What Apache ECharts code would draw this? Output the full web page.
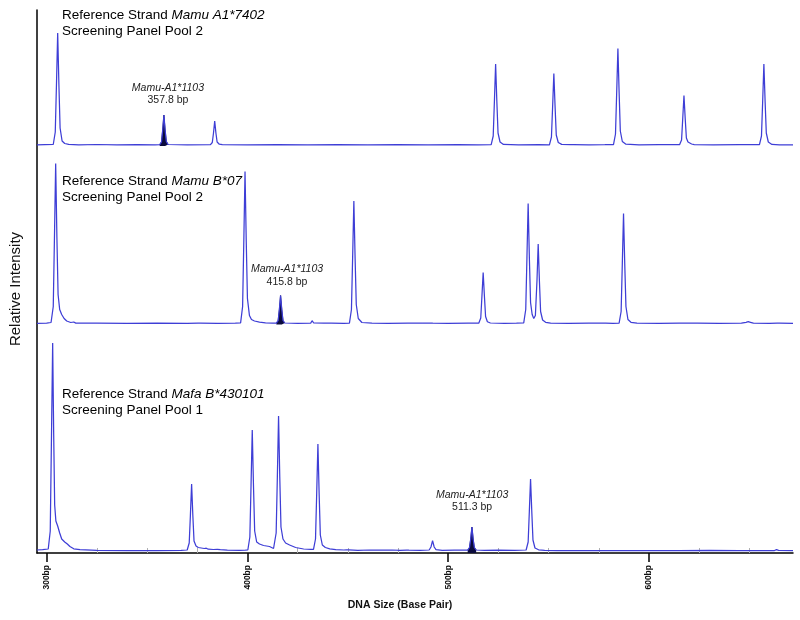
<!DOCTYPE html>
<html>
<head>
<meta charset="utf-8">
<script src="https://cdn.jsdelivr.net/npm/echarts@6/dist/echarts.min.js"></script>
<style>
  html, body { margin: 0; padding: 0; background: #fff; }
  #chart { width: 800px; height: 620px; }
</style>
</head>
<body>
<div id="chart"></div>
<script>
// x range in base pairs
const bpMin = 295.2;
const bpMax = 671.7;
const tickValues = [300, 400, 500, 600];
const minorValues = [325, 350, 375, 425, 450, 475, 525, 550, 575, 625, 650];

// panel captions
const strandNames = ['Mamu A1*7402', 'Mamu B*07', 'Mafa B*430101'];
const poolNames = ['Screening Panel Pool 2', 'Screening Panel Pool 2', 'Screening Panel Pool 1'];

// highlighted allele
const alleleName = 'Mamu-A1*1103';
const alleleSizes = ['357.8 bp', '415.8 bp', '511.3 bp'];
const alleleLabelAt = [[360.4, 52], [419.7, 49], [511.9, 52]];

// traces: [bp, relative intensity]
const traceA = [
  [295.2, 1.2], [299, 1.4], [303.3, 1.5], [304.3, 14], [304.9, 62], [305.5, 113], [306.1, 62], [306.7, 18], [307.7, 5],
  [309, 2.5], [311, 1.6], [316, 1.2], [325, 1.5], [335, 1.1], [345, 1.4], [354, 1.1],
  [370, 1.2], [381.6, 1.3], [382.5, 3.5], [383.1, 13], [383.7, 25], [384.3, 13], [384.9, 4], [386, 1.8], [387.5, 1.3],
  [400, 1.1], [415, 1.4], [430, 1.1], [445, 1.3], [460, 1.1], [475, 1.4], [490, 1.1], [505, 1.3], [515, 1.1],
  [521.4, 1.3], [522.4, 10], [523.0, 45], [523.6, 82], [524.2, 45], [524.8, 13], [525.8, 4], [527.5, 1.6], [535, 1.2], [545, 1.3],
  [550.4, 1.2], [551.4, 9], [552.0, 40], [552.6, 72.5], [553.2, 40], [553.8, 11], [554.8, 3.5], [556.5, 1.6],
  [561, 1.4], [561.6, 2.2], [562.4, 1.4], [570, 1.2], [578, 1.3],
  [582.3, 1.4], [583.3, 12], [583.9, 54], [584.5, 97.5], [585.1, 54], [585.7, 15], [586.7, 4.5], [588.5, 1.8], [595, 1.2], [605, 1.3],
  [615.2, 1.3], [616.2, 6], [616.8, 28], [617.4, 50.5], [618.0, 28], [618.6, 8], [619.4, 4], [620.2, 3.2], [621.2, 2], [622.5, 1.4],
  [632, 1.2], [645, 1.3],
  [655, 1.3], [656, 10], [656.6, 45], [657.2, 82], [657.8, 45], [658.4, 13], [659.4, 4], [661.2, 1.6], [665, 1.2], [671.7, 1.1]
];
const fillA = [[356.3, 1.3], [357.2, 4], [357.8, 16], [358.4, 31], [359.0, 16], [359.6, 4.5], [360.5, 1.5]];

const traceB = [
  [295.2, 1.2], [300, 1.4], [302.2, 2], [303.3, 18], [303.9, 88], [304.5, 161], [305.1, 88], [305.7, 30], [306.5, 15],
  [307.5, 10], [308.7, 6], [310, 3.5], [312, 2], [313.5, 2.5], [314.5, 1.4], [325, 1.3], [340, 1.1], [355, 1.4], [370, 1.2],
  [375.4, 1.3], [375.9, 2.4], [376.5, 1.3], [385, 1.2], [394, 1.3],
  [396.6, 1.6], [397.6, 18], [398.2, 84], [398.8, 153], [399.4, 84], [400, 26], [401, 9], [402, 5], [403.5, 3.5],
  [406, 2.4], [409, 1.6], [412.5, 1.3],
  [425, 1.2], [431.5, 1.4], [432.2, 3.8], [433, 1.5], [438, 1.3], [440.6, 1.3], [441.1, 2.3], [441.7, 1.3], [448, 1.2],
  [450.8, 1.3], [451.8, 15], [452.4, 68], [453, 123.5], [453.6, 68], [454.2, 20], [455.2, 6], [457, 2], [462, 1.3],
  [470, 1.2], [480, 1.4], [487, 1.3], [487.6, 2.2], [488.2, 1.3], [491.2, 1.4], [491.7, 2.3], [492.3, 1.3], [500, 1.1], [510, 1.3],
  [515.2, 1.3], [516.2, 6.5], [516.8, 29], [517.4, 52], [518, 29], [518.6, 8], [519.5, 2.8], [521, 1.5], [528, 1.2], [534, 1.3],
  [537.6, 1.6], [538.6, 15], [539.2, 67], [539.8, 121], [540.4, 67], [541.0, 22], [541.8, 10], [542.6, 6], [543.4, 9],
  [544.2, 44], [544.8, 80.5], [545.4, 44], [546.0, 13], [547, 4.5], [548.5, 2.2], [551, 1.4],
  [560, 1.2], [570, 1.3], [575.1, 1.3], [575.6, 2.6], [576.2, 1.4], [577.3, 1.3], [577.8, 2], [578.4, 1.3], [582, 1.2],
  [585.1, 1.3], [586.1, 13], [586.7, 61], [587.3, 111], [587.9, 61], [588.5, 18], [589.5, 5], [591, 2.2], [594, 1.4],
  [605, 1.2], [615, 1.3], [622.8, 1.3], [623.4, 2.4], [624, 1.3], [635, 1.2], [646, 1.3], [648.3, 2.2], [649.4, 2.8],
  [650.5, 2.2], [652, 1.3], [660, 1.2], [663.8, 1.3], [664.3, 2.3], [664.9, 1.3], [671.7, 1.1]
];
const fillB = [[414.4, 1.4], [415.3, 4], [415.9, 15], [416.5, 29], [417.1, 15], [417.7, 4], [418.6, 1.5]];

const traceC = [
  [295.2, 3], [298, 3.3], [300.8, 4], [301.8, 22], [302.4, 115], [303, 210], [303.5, 120], [304.0, 48], [304.6, 32],
  [305.5, 27], [306.5, 20], [307.5, 14], [309, 11], [310.3, 9], [311.6, 6.5], [313.5, 4.2], [316.6, 3.3], [325, 2.7],
  [340, 2.5], [355, 2.5], [367, 2.7],
  [370, 3], [371, 10], [371.6, 38], [372.2, 69], [372.8, 38], [373.4, 12], [374.4, 7], [375.5, 5.5], [377, 5],
  [378.5, 4.5], [379.5, 4.8], [380.5, 3.8], [383, 3.5], [385, 3.7], [386.5, 3.4], [390, 2.8], [396, 2.6], [399, 2.8],
  [400.2, 3], [401.2, 16], [401.8, 68], [402.4, 123], [403.0, 68], [403.6, 22], [404.6, 11], [406, 9], [408, 7.5],
  [411, 6.5], [413, 4.5],
  [413.6, 6], [414.3, 20], [414.9, 76], [415.5, 137], [416.1, 76], [416.7, 26], [417.7, 14], [419, 10], [421, 8],
  [424, 5.5], [428, 4], [431.5, 3.6],
  [432.9, 3.6], [433.9, 14], [434.5, 60], [435.1, 109], [435.7, 60], [436.3, 18], [437.3, 8], [438.8, 5.5], [441, 4.2],
  [444, 3.4], [448, 3],
  [449.3, 3.2], [449.9, 4.8], [450.5, 3.1], [455, 2.7], [460.7, 3], [461.4, 4.7], [462, 3], [465.7, 3], [466.3, 4.5],
  [467, 3], [470.7, 3], [471.3, 4.5], [472, 3], [476, 2.7], [479.3, 2.9], [479.8, 3.8], [480.4, 2.8], [486, 2.6],
  [490.5, 3], [491.4, 6], [492.2, 12.3], [493, 6], [493.9, 3.3], [497, 2.6], [503, 2.8],
  [518, 2.6], [525, 2.8], [533, 2.6],
  [538.8, 3], [539.8, 11], [540.4, 42], [541, 74], [541.6, 42], [542.2, 13], [543.2, 5], [545, 3.2], [548, 2.6],
  [554.2, 2.5], [554.8, 3.6], [555.4, 2.5], [563, 2.4], [572.4, 2.5], [573, 3.6], [573.6, 2.5], [585, 2.4], [600, 2.5],
  [615, 2.3], [630, 2.6], [645, 2.4], [662.5, 2.5], [663.5, 3.4], [664.5, 2.6], [671.7, 2.4]
];
const fillC = [[509.7, 2.8], [510.6, 5.5], [511.2, 14], [511.8, 26], [512.4, 14], [513, 5.5], [513.9, 3]];

const traces = [traceA, traceB, traceC];
const fills = [fillA, fillB, fillC];

// layout of the three stacked panels (pixels)
const panelTop = [26, 154.5, 333];
const panelHeight = [120, 170, 220];
const captionTop = [8, 174, 387];

const FONT = '"Liberation Sans", Arial, Helvetica, sans-serif';
const traceColor = '#3e3ed6';
const fillColor = '#0a0a3c';

const chart = echarts.init(document.getElementById('chart'));

const grids = [];
const xAxes = [];
const yAxes = [];
const series = [];

for (let i = 0; i < 3; i++) {
  grids.push({ left: 37, right: 7, top: panelTop[i], height: panelHeight[i] });
  xAxes.push({ gridIndex: i, type: 'value', min: bpMin, max: bpMax, show: false });
  yAxes.push({ gridIndex: i, type: 'value', min: 0, max: panelHeight[i], show: false });

  const line = traces[i].concat(fills[i]).sort((a, b) => a[0] - b[0]);

  series.push({
    type: 'line',
    xAxisIndex: i,
    yAxisIndex: i,
    data: fills[i],
    symbol: 'none',
    silent: true,
    z: 2,
    lineStyle: { color: fillColor, width: 0.8 },
    areaStyle: { color: fillColor, opacity: 1 },
    markPoint: {
      symbol: 'circle',
      symbolSize: 0,
      silent: true,
      itemStyle: { color: 'rgba(0,0,0,0)' },
      label: {
        show: true,
        position: 'inside',
        formatter: '{i|' + alleleName + '}\n{n|' + alleleSizes[i] + '}',
        rich: {
          i: { fontFamily: FONT, fontSize: 10.5, fontStyle: 'italic', color: '#222', lineHeight: 12.7, align: 'center' },
          n: { fontFamily: FONT, fontSize: 10.5, color: '#222', lineHeight: 12.7, align: 'center' }
        }
      },
      data: [{ coord: alleleLabelAt[i] }]
    }
  });
  series.push({
    type: 'line',
    xAxisIndex: i,
    yAxisIndex: i,
    data: line,
    symbol: 'none',
    silent: true,
    z: 3,
    lineStyle: { color: traceColor, width: 1.25 }
  });
}

// frame grid carrying the visible axes
grids.push({ left: 37, right: 7, top: 10, bottom: 67 });
xAxes.push({
  gridIndex: 3,
  type: 'value',
  min: bpMin,
  max: bpMax,
  name: 'DNA Size (Base Pair)',
  nameLocation: 'middle',
  nameGap: 47,
  nameTextStyle: { fontFamily: FONT, fontSize: 10.5, fontWeight: 'bold', color: '#111', padding: [0, 30, 0, 0] },
  axisLine: { onZero: false, lineStyle: { color: '#000', width: 1.5 } },
  axisTick: { customValues: tickValues, length: 9, lineStyle: { color: '#000', width: 1.5 } },
  axisLabel: {
    customValues: tickValues,
    rotate: 90,
    margin: 12,
    fontFamily: FONT,
    fontSize: 8.5,
    fontWeight: 'bold',
    color: '#111',
    formatter: (v) => v + 'bp'
  },
  splitLine: { show: false }
});
xAxes.push({
  gridIndex: 3,
  type: 'value',
  min: bpMin,
  max: bpMax,
  axisLine: { show: false },
  axisTick: { customValues: minorValues, length: 5, lineStyle: { color: '#b0b0b0', width: 1 } },
  axisLabel: { show: false },
  splitLine: { show: false }
});
yAxes.push({
  gridIndex: 3,
  type: 'value',
  min: 0,
  max: 1,
  name: 'Relative Intensity',
  nameLocation: 'middle',
  nameGap: 14,
  nameTextStyle: { fontFamily: FONT, fontSize: 15, color: '#111', padding: [0, 15, 0, 0] },
  axisLine: { show: true, onZero: false, lineStyle: { color: '#000', width: 1.5 } },
  axisTick: { show: false },
  axisLabel: { show: false },
  splitLine: { show: false }
});

// panel captions
const captions = strandNames.map((name, i) => ({
  type: 'text',
  left: 62,
  top: captionTop[i],
  silent: true,
  style: {
    text: '{n|Reference Strand }{i|' + name + '}\n{n|' + poolNames[i] + '}',
    rich: {
      n: { fontFamily: FONT, fontSize: 13.5, color: '#111', lineHeight: 16.5 },
      i: { fontFamily: FONT, fontSize: 13.5, fontStyle: 'italic', color: '#111', lineHeight: 16.5 }
    }
  }
}));

chart.setOption({
  animation: false,
  backgroundColor: '#fff',
  grid: grids,
  xAxis: xAxes,
  yAxis: yAxes,
  graphic: captions,
  series: series
});
</script>
</body>
</html>
